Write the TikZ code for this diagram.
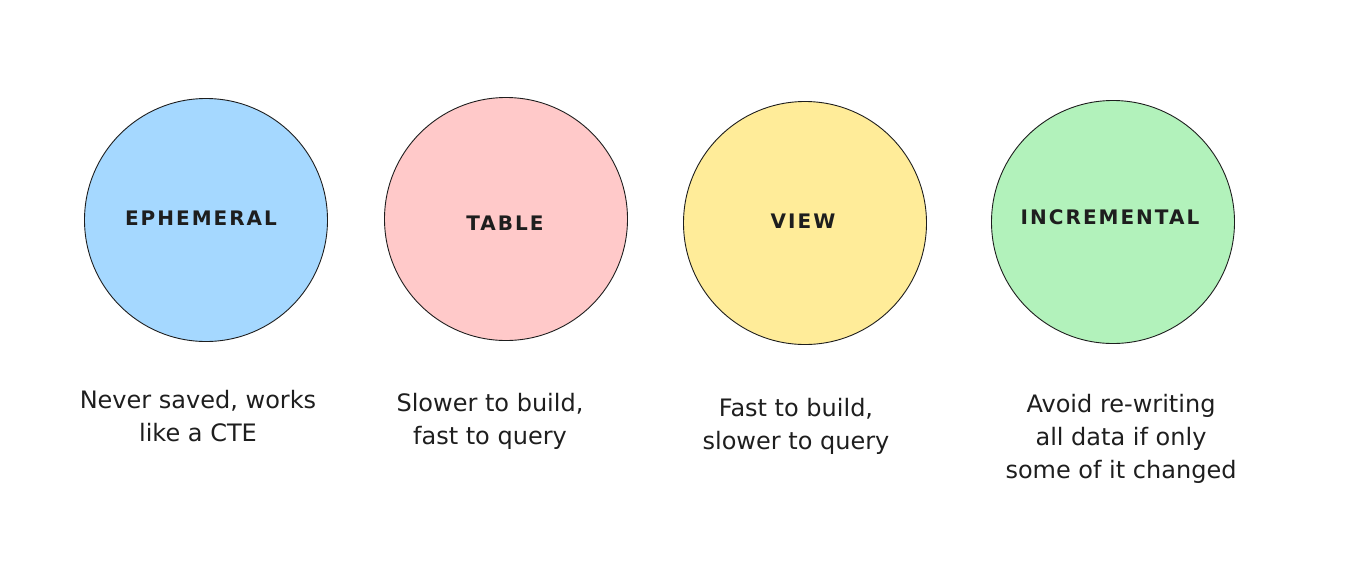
\documentclass[tikz,border=0pt]{standalone}
\usepackage{fontspec}
\setmainfont{DejaVu Sans}
\definecolor{EphClr}{HTML}{A5D8FF}
\definecolor{TabClr}{HTML}{FFC9C9}
\definecolor{ViewClr}{HTML}{FFEC99}
\definecolor{IncClr}{HTML}{B2F2BB}
\definecolor{InkClr}{HTML}{1E1E1E}

\begin{document}
\begin{tikzpicture}[x=1pt,y=-1pt,
  kind/.style={circle,draw=InkClr,line width=0.9pt,minimum size=243pt,inner sep=0pt},
  kindlabel/.style={text=InkClr,inner sep=0pt,font=\fontsize{20}{24}\selectfont\bfseries\addfontfeature{LetterSpace=10}},
  note/.style={align=center,text=InkClr,inner sep=0pt,font=\fontsize{24}{33}\selectfont}]
\useasboundingbox (0,0) rectangle (1352,571);

% The four kinds of model, one circle each.
\node[kind,fill=EphClr]  (eph)  at (206,220) {};
\node[kind,fill=TabClr]  (tab)  at (506,219) {};
\node[kind,fill=ViewClr] (view) at (805,223) {};
\node[kind,fill=IncClr]  (inc)  at (1113,222) {};

% Names inside the circles.
\node[kindlabel] (ephname)  at (201,218)  {EPHEMERAL};
\node[kindlabel] (tabname)  at (505,223)  {TABLE};
\node[kindlabel] (viewname) at (803,221)  {VIEW};
\node[kindlabel] (incname)  at (1110,217) {INCREMENTAL};

% What each one costs.
\node[note] (ephnote)  at (198,416)  {Never saved, works\\like a CTE};
\node[note] (tabnote)  at (490,421)  {Slower to build,\\fast to query};
\node[note] (viewnote) at (796,426)  {Fast to build,\\slower to query};
\node[note] (incnote)  at (1121,439) {Avoid re-writing\\all data if only\\some of it changed};

\end{tikzpicture}
\end{document}
